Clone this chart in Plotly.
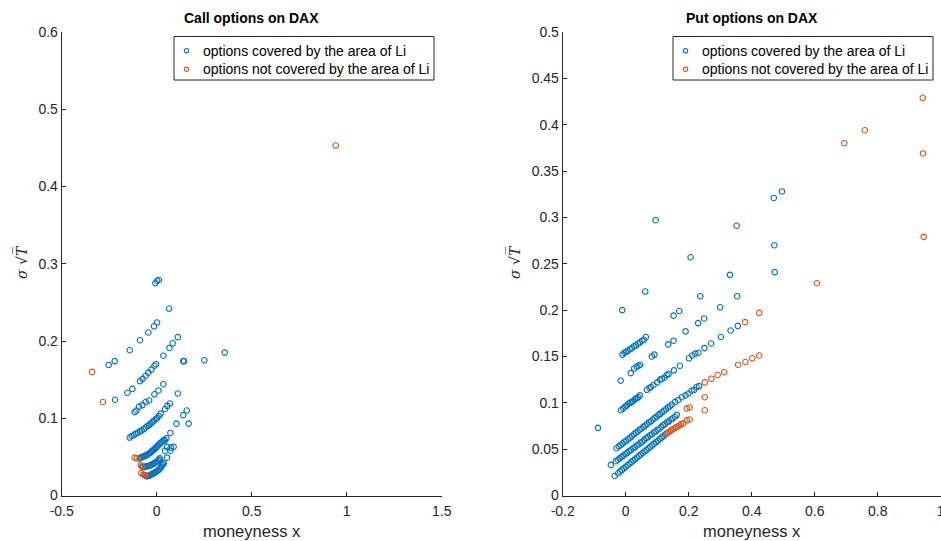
import plotly.graph_objects as go

# ---------------- data (moneyness x, sigma*sqrt(T)) ----------------
call_covered = [
    (-0.007, 0.275), (0.002, 0.278), (0.011, 0.279),
    (0.065, 0.242),
    (0.002, 0.224), (-0.014, 0.219), (-0.044, 0.211), (-0.088, 0.201), (-0.142, 0.188), (-0.221, 0.174), (-0.253, 0.169),
    (0.111, 0.205), (0.084, 0.197), (0.067, 0.191), (0.035, 0.181),
    (0.140, 0.174), (0.144, 0.174), (0.251, 0.175), (0.358, 0.185),
    (-0.004, 0.170), (-0.012, 0.168), (-0.028, 0.163), (-0.044, 0.159), (-0.058, 0.155), (-0.074, 0.151), (-0.088, 0.148), (-0.128, 0.138), (-0.154, 0.133),
    (-0.219, 0.124),
    (0.035, 0.144), (0.009, 0.136), (-0.012, 0.131),
    (0.111, 0.132),
    (0.070, 0.119), (0.056, 0.116), (0.044, 0.112),
    (-0.040, 0.123), (-0.058, 0.121), (-0.075, 0.117), (-0.093, 0.115), (-0.107, 0.110), (-0.116, 0.108),
    (0.158, 0.110), (0.140, 0.104), (0.168, 0.093), (0.104, 0.093),
    (0.021, 0.106), (0.011, 0.103), (0.002, 0.100), (-0.005, 0.099), (-0.014, 0.097), (-0.023, 0.095), (-0.032, 0.093), (-0.040, 0.091), (-0.049, 0.090),
    (-0.058, 0.088), (-0.068, 0.086), (-0.079, 0.084), (-0.089, 0.083), (-0.100, 0.081), (-0.111, 0.080), (-0.121, 0.078), (-0.132, 0.077), (-0.142, 0.075),
    (0.072, 0.081), (0.051, 0.074), (0.042, 0.071), (0.054, 0.063), (0.074, 0.062), (0.089, 0.063), (0.044, 0.058), (0.072, 0.058), (0.054, 0.049),
    (0.039, 0.072), (0.032, 0.0705), (0.025, 0.069), (0.018, 0.0675), (0.012, 0.066), (0.006, 0.0645), (0.000, 0.063), (-0.006, 0.0615), (-0.011, 0.060),
    (-0.017, 0.059), (-0.023, 0.058), (-0.029, 0.0565), (-0.035, 0.055), (-0.042, 0.054), (-0.049, 0.053), (-0.056, 0.052), (-0.063, 0.051), (-0.070, 0.0505),
    (-0.077, 0.050), (-0.083, 0.049), (-0.089, 0.048),
    (0.016, 0.048), (0.012, 0.0465), (0.007, 0.045), (0.001, 0.044), (-0.005, 0.043), (-0.012, 0.042), (-0.019, 0.041), (-0.026, 0.040), (-0.033, 0.039),
    (-0.041, 0.0385), (-0.049, 0.038), (-0.056, 0.0375), (-0.063, 0.037), (-0.072, 0.037),
    (0.037, 0.042), (0.033, 0.0405), (0.028, 0.039), (0.023, 0.037), (0.018, 0.035), (0.011, 0.0335), (0.005, 0.032), (-0.002, 0.031), (-0.009, 0.030),
    (-0.016, 0.029), (-0.023, 0.028), (-0.030, 0.027), (-0.037, 0.026), (-0.043, 0.0255), (-0.049, 0.025), (-0.055, 0.025),
]
call_not_covered = [
    (0.942, 0.453), (-0.340, 0.160), (-0.283, 0.121),
    (-0.104, 0.048), (-0.116, 0.049),
    (-0.084, 0.039), (-0.078, 0.0375),
    (-0.081, 0.029), (-0.070, 0.027), (-0.059, 0.026), (-0.064, 0.0265),
]

put_covered = [
    (-0.088, 0.073), (0.095, 0.297),
    (-0.011, 0.200), (0.062, 0.220), (0.206, 0.257), (0.352, 0.291), (0.470, 0.321), (0.496, 0.328),
    (-0.010, 0.152), (-0.004, 0.154), (0.001, 0.155), (0.007, 0.156), (0.014, 0.158), (0.020, 0.159), (0.026, 0.161), (0.033, 0.162),
    (0.039, 0.164), (0.045, 0.165), (0.052, 0.167), (0.058, 0.168), (0.064, 0.171),
    (0.152, 0.194), (0.170, 0.199), (0.237, 0.215), (0.331, 0.238), (0.472, 0.270),
    (-0.016, 0.124), (0.016, 0.132), (0.027, 0.137), (0.035, 0.139), (0.041, 0.140), (0.046, 0.141),
    (0.083, 0.150), (0.091, 0.152), (0.135, 0.163), (0.152, 0.167), (0.190, 0.177), (0.230, 0.186), (0.249, 0.191),
    (0.300, 0.203), (0.354, 0.215), (0.473, 0.241),
    (-0.015, 0.092), (-0.008, 0.094), (-0.002, 0.096), (0.003, 0.097), (0.008, 0.099), (0.014, 0.100), (0.019, 0.101), (0.024, 0.102),
    (0.030, 0.104), (0.035, 0.105), (0.040, 0.106), (0.045, 0.108),
    (0.067, 0.114), (0.075, 0.116), (0.080, 0.117), (0.088, 0.119), (0.100, 0.122), (0.109, 0.125), (0.115, 0.126), (0.123, 0.127),
    (0.130, 0.130), (0.136, 0.131), (0.153, 0.135), (0.172, 0.140), (0.201, 0.148), (0.211, 0.151), (0.221, 0.153), (0.231, 0.154),
    (0.250, 0.159), (0.271, 0.164), (0.302, 0.171), (0.333, 0.178), (0.356, 0.183),
    (-0.029, 0.051), (-0.022, 0.053), (-0.016, 0.0545), (-0.010, 0.056), (-0.004, 0.058), (0.002, 0.059), (0.008, 0.061), (0.014, 0.0625),
    (0.020, 0.064), (0.026, 0.066), (0.032, 0.0675), (0.038, 0.069), (0.044, 0.071), (0.050, 0.072), (0.056, 0.074), (0.062, 0.0755),
    (0.068, 0.077), (0.074, 0.079), (0.080, 0.080), (0.086, 0.082), (0.092, 0.0835), (0.098, 0.085), (0.104, 0.087), (0.110, 0.088),
    (0.116, 0.090), (0.122, 0.0915), (0.128, 0.093), (0.134, 0.095), (0.140, 0.096), (0.146, 0.098),
    (0.157, 0.101), (0.167, 0.103), (0.178, 0.106), (0.190, 0.108), (0.199, 0.110), (0.209, 0.113), (0.217, 0.114), (0.225, 0.117), (0.233, 0.118),
    (-0.047, 0.033),
    (-0.031, 0.037), (-0.025, 0.0386), (-0.019, 0.040), (-0.013, 0.0417), (-0.007, 0.043), (-0.001, 0.0448), (0.005, 0.046), (0.011, 0.0479),
    (0.017, 0.049), (0.023, 0.051), (0.029, 0.052), (0.035, 0.054), (0.041, 0.055), (0.047, 0.057), (0.053, 0.058), (0.059, 0.060),
    (0.065, 0.062), (0.071, 0.063), (0.077, 0.065), (0.083, 0.066), (0.089, 0.068), (0.095, 0.069), (0.101, 0.071), (0.107, 0.072),
    (0.113, 0.074), (0.119, 0.076), (0.125, 0.077), (0.131, 0.079), (0.137, 0.080), (0.143, 0.082), (0.149, 0.083), (0.156, 0.085), (0.162, 0.087),
    (-0.035, 0.021), (-0.024, 0.024), (-0.018, 0.026), (-0.012, 0.0277), (-0.006, 0.0293), (0.000, 0.031), (0.006, 0.0326), (0.012, 0.0343),
    (0.018, 0.036), (0.024, 0.0376), (0.030, 0.0393), (0.036, 0.041), (0.042, 0.0426), (0.048, 0.0443), (0.054, 0.046), (0.060, 0.0475),
    (0.066, 0.049), (0.072, 0.051), (0.078, 0.0525), (0.084, 0.054), (0.090, 0.056), (0.096, 0.0575), (0.102, 0.059), (0.108, 0.061),
    (0.114, 0.0625), (0.120, 0.064), (0.126, 0.066),
]
put_not_covered = [
    (0.130, 0.067), (0.135, 0.068), (0.140, 0.069), (0.145, 0.0705), (0.150, 0.0715), (0.155, 0.0725), (0.160, 0.0735), (0.165, 0.0745),
    (0.170, 0.0755), (0.176, 0.077), (0.183, 0.078),
    (0.194, 0.081), (0.203, 0.082), (0.194, 0.094), (0.203, 0.095),
    (0.251, 0.106), (0.251, 0.092),
    (0.251, 0.122), (0.272, 0.126), (0.292, 0.130), (0.313, 0.133),
    (0.357, 0.141), (0.380, 0.144), (0.402, 0.148), (0.424, 0.151),
    (0.379, 0.187), (0.424, 0.197), (0.607, 0.229),
    (0.694, 0.380), (0.759, 0.394), (0.943, 0.429), (0.944, 0.369), (0.946, 0.279),
]

call_xticks = [-0.5, 0, 0.5, 1, 1.5]
call_xlabels = ["-0.5", "0", "0.5", "1", "1.5"]
call_yticks = [0, 0.1, 0.2, 0.3, 0.4, 0.5, 0.6]
call_ylabels = ["0", "0.1", "0.2", "0.3", "0.4", "0.5", "0.6"]
put_xticks = [-0.2, 0, 0.2, 0.4, 0.6, 0.8, 1]
put_xlabels = ["-0.2", "0", "0.2", "0.4", "0.6", "0.8", "1"]
put_yticks = [0, 0.05, 0.1, 0.15, 0.2, 0.25, 0.3, 0.35, 0.4, 0.45, 0.5]
put_ylabels = ["0", "0.05", "0.1", "0.15", "0.2", "0.25", "0.3", "0.35", "0.4", "0.45", "0.5"]

BLUE = "#0072BD"
ORANGE = "#D95319"
NAME_IN = "options covered by the area of Li"
NAME_OUT = "options not covered by the area of Li"
FONT = "Liberation Sans, Arial, Helvetica, sans-serif"
AX = "#262626"

W, H = 941, 541


def px_x(p):
    return p / W


def px_y(p):
    return (H - p) / H


fig = go.Figure()


def add(points, color, name, xa, ya):
    fig.add_trace(go.Scatter(
        x=[p[0] for p in points], y=[p[1] for p in points],
        mode="markers", name=name, xaxis=xa, yaxis=ya, showlegend=False,
        marker=dict(symbol="circle-open", size=5.5, color=color, line=dict(width=1.1, color=color)),
    ))


add(call_covered, BLUE, NAME_IN, "x", "y")
add(call_not_covered, ORANGE, NAME_OUT, "x", "y")
add(put_covered, BLUE, NAME_IN, "x2", "y2")
add(put_not_covered, ORANGE, NAME_OUT, "x2", "y2")

ydom = [px_y(495.5), px_y(32.0)]
axis_common = dict(
    showline=True, linecolor=AX, linewidth=1, mirror=False, automargin=False,
    ticks="inside", ticklen=4, tickcolor=AX, showgrid=False, zeroline=False,
    tickfont=dict(family=FONT, size=14, color=AX), ticklabeloverflow="allow",
)
xaxis_extra = dict(ticklabelstandoff=3)

fig.update_layout(
    template="none",
    width=W, height=H,
    margin=dict(l=0, r=0, t=0, b=0, pad=0),
    paper_bgcolor="white", plot_bgcolor="white",
    font=dict(family=FONT, color=AX),
    showlegend=False,
    xaxis=dict(domain=[px_x(61.7), px_x(441.7)], range=[-0.5, 1.5], tickmode="array",
               tickvals=call_xticks, ticktext=call_xlabels, anchor="y", **axis_common, **xaxis_extra),
    yaxis=dict(domain=ydom, range=[0, 0.6], tickmode="array",
               tickvals=call_yticks, ticktext=call_ylabels, anchor="x", **axis_common),
    xaxis2=dict(domain=[px_x(562.7), px_x(940.7)], range=[-0.2, 1.0], tickmode="array",
                tickvals=put_xticks, ticktext=put_xlabels, anchor="y2", **axis_common, **xaxis_extra),
    yaxis2=dict(domain=ydom, range=[0, 0.5], tickmode="array",
                tickvals=put_yticks, ticktext=put_ylabels, anchor="x2", **axis_common),
)

ann = []
shapes = []
panels = [
    ((61.7 + 441.7) / 2, "Call options on DAX", (174, 434)),
    ((562.7 + 940.7) / 2, "Put options on DAX", (673, 933)),
]
for cx, title, (lx0, lx1) in panels:
    ann.append(dict(x=px_x(cx), y=px_y(18), xref="paper", yref="paper", text="<b>" + title + "</b>",
                    showarrow=False, font=dict(family=FONT, size=14, color="#000"),
                    xanchor="center", yanchor="middle"))
    ann.append(dict(x=px_x(cx), y=px_y(531), xref="paper", yref="paper", text="moneyness x",
                    showarrow=False, font=dict(family=FONT, size=16.5, color=AX),
                    xanchor="center", yanchor="middle"))
    shapes.append(dict(type="rect", xref="paper", yref="paper",
                       x0=px_x(lx0), x1=px_x(lx1), y0=px_y(80), y1=px_y(36.5),
                       line=dict(color=AX, width=1), fillcolor="white", layer="above"))
    for row_y, color, label in [(50.7, BLUE, NAME_IN), (69.3, ORANGE, NAME_OUT)]:
        mx = lx0 + 12.5
        shapes.append(dict(type="circle", xref="paper", yref="paper",
                           x0=px_x(mx - 2.2), x1=px_x(mx + 2.2), y0=px_y(row_y + 2.2), y1=px_y(row_y - 2.2),
                           line=dict(color=color, width=1.1), layer="above"))
        ann.append(dict(x=px_x(lx0 + 27), y=px_y(row_y), xref="paper", yref="paper", text=label,
                        showarrow=False, font=dict(family=FONT, size=14, color="#000"),
                        xanchor="left", yanchor="middle"))
for cx in [21, 514]:
    ann.append(dict(x=px_x(cx), y=px_y(262), xref="paper", yref="paper",
                    text="<i>σ</i> √<i>T\u0305</i>", textangle=-90,
                    showarrow=False, font=dict(family="DejaVu Serif, serif", size=14, color=AX),
                    xanchor="center", yanchor="middle"))
fig.update_layout(annotations=ann, shapes=shapes)

fig.write_html("out.html")
